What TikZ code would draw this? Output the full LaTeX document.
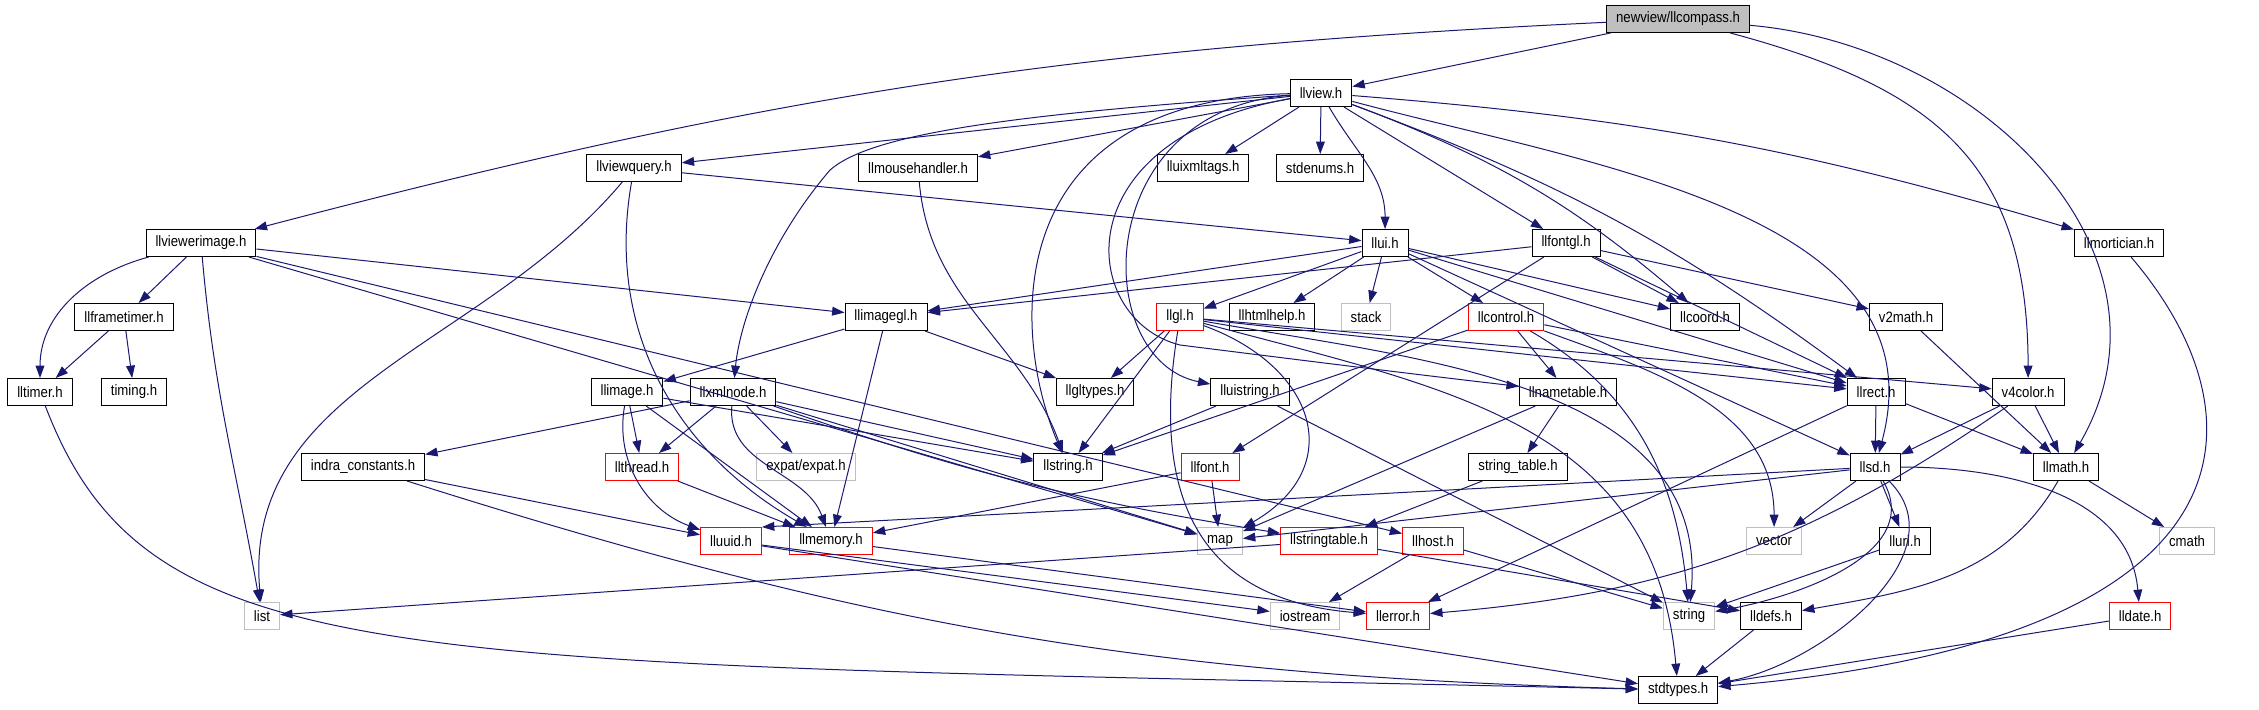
\documentclass[tikz,border=0pt]{standalone}
\usepackage{fontspec}
\setmainfont{Liberation Sans}[FakeStretch=0.88]
\usetikzlibrary{arrows.meta,positioning}
\definecolor{edgeblue}{HTML}{191970}
\definecolor{sysgray}{HTML}{BFBFBF}

\begin{document}
\begin{tikzpicture}[x=0.05pt,y=0.05pt,>={Triangle[length=0.62pt,width=0.44pt]},
		file/.style={rectangle,draw=black,line width=0.05pt,minimum height=1.35pt,inner xsep=0.475pt,inner ysep=0pt,font=\fontsize{0.75}{0.8}\selectfont},
		undoc/.style={file,draw=red},
		sysfile/.style={file,draw=sysgray},
		rootfile/.style={file,fill=sysgray},
		dep/.style={draw=edgeblue,line width=0.05pt},
		every edge/.style={dep}]
		\useasboundingbox (0,0) rectangle (2259,-709);
		% row 0 - 1
		\node[rootfile] (f_compass) at (1678,-19) {newview/llcompass.h};
		\node[file] (f_view) at (1321,-93) {llview.h};
		% row 2
		\node[file] (f_viewquery) at (634,-168) {llviewquery.h};
		\node[file] (f_mousehandler) at (918,-168) {llmousehandler.h};
		\node[file] (f_uixmltags) at (1203,-168) {lluixmltags.h};
		\node[file] (f_stdenums) at (1320,-168) {stdenums.h};
		% row 3
		\node[file] (f_viewerimage) at (201,-243) {llviewerimage.h};
		\node[file] (f_ui) at (1385,-243) {llui.h};
		\node[file] (f_fontgl) at (1566,-243) {llfontgl.h};
		\node[file] (f_mortician) at (2119,-243) {llmortician.h};
		% row 4
		\node[file] (f_frametimer) at (124,-317) {llframetimer.h};
		\node[file] (f_imagegl) at (886,-317) {llimagegl.h};
		\node[undoc] (f_gl) at (1180,-317) {llgl.h};
		\node[file] (f_htmlhelp) at (1272,-317) {llhtmlhelp.h};
		\node[sysfile] (f_stack) at (1366,-317) {stack};
		\node[undoc] (f_control) at (1506,-317) {llcontrol.h};
		\node[file] (f_coord) at (1705,-317) {llcoord.h};
		\node[file] (f_v2math) at (1906,-317) {v2math.h};
		% row 5
		\node[file] (f_timer) at (40,-392) {lltimer.h};
		\node[file] (f_timing) at (134,-392) {timing.h};
		\node[file] (f_image) at (627,-392) {llimage.h};
		\node[file] (f_xmlnode) at (733,-392) {llxmlnode.h};
		\node[file] (f_gltypes) at (1095,-392) {llgltypes.h};
		\node[file] (f_uistring) at (1250,-392) {lluistring.h};
		\node[file] (f_nametable) at (1568,-392) {llnametable.h};
		\node[file] (f_rect) at (1876,-392) {llrect.h};
		\node[file] (f_v4color) at (2028,-392) {v4color.h};
		% row 6
		\node[file] (f_indra) at (363,-467) {indra\_constants.h};
		\node[undoc] (f_thread) at (642,-467) {llthread.h};
		\node[sysfile] (f_expat) at (806,-467) {expat/expat.h};
		\node[file] (f_llstring) at (1068,-467) {llstring.h};
		\node[undoc] (f_font) at (1210,-467) {llfont.h};
		\node[file] (f_strtable) at (1518,-467) {string\_table.h};
		\node[file] (f_sd) at (1875,-467) {llsd.h};
		\node[file] (f_math) at (2066,-467) {llmath.h};
		% row 7
		\node[undoc] (f_uuid) at (731,-541) {lluuid.h};
		\node[undoc] (f_memory) at (831,-541) {llmemory.h};
		\node[sysfile] (f_map) at (1220,-541) {map};
		\node[undoc] (f_stringtable) at (1329,-541) {llstringtable.h};
		\node[undoc] (f_host) at (1433,-541) {llhost.h};
		\node[sysfile] (f_vector) at (1774,-541) {vector};
		\node[file] (f_uri) at (1905,-541) {lluri.h};
		\node[sysfile] (f_cmath) at (2187,-541) {cmath};
		% row 8 - 9
		\node[sysfile] (f_list) at (262,-616) {list};
		\node[sysfile] (f_iostream) at (1305,-616) {iostream};
		\node[undoc] (f_error) at (1398,-616) {llerror.h};
		\node[sysfile] (f_string) at (1689,-616) {string};
		\node[file] (f_defs) at (1771,-616) {lldefs.h};
		\node[undoc] (f_date) at (2140,-616) {lldate.h};
		\node[file] (f_stdtypes) at (1678,-690) {stdtypes.h};

		\path[->]
			(f_compass) edge (f_view)
			(f_compass) edge[bend right=6] (f_viewerimage)
			(f_compass) edge[out=-15,in=90,looseness=1.2] (f_v4color)
			(f_compass) edge[out=-5,in=60,looseness=1.1] (f_math)
			(f_view) edge (f_viewquery)
			(f_view) edge (f_mousehandler)
			(f_view) edge (f_uixmltags)
			(f_view) edge (f_stdenums)
			(f_view) edge[out=-60,in=90] (f_ui)
			(f_view) edge (f_fontgl)
			(f_view) edge[bend left=10] (f_coord)
			(f_view) edge[bend left=6] (f_mortician)
			(f_view) edge[bend left=8] (f_rect)
			(f_view) edge[out=-15,in=75] (f_sd)
			(f_viewquery) edge (f_ui)
			(f_viewquery) edge[out=-130,in=95] (f_list)
			(f_viewquery) edge[out=-100,in=150] (f_memory)
			(f_mousehandler) edge[out=-85,in=110] (f_llstring)
			(f_viewerimage) edge (f_frametimer)
			(f_viewerimage) edge[out=195,in=90] (f_timer)
			(f_viewerimage) edge[out=-85,in=100] (f_list)
			(f_viewerimage) edge (f_imagegl)
			(f_viewerimage) edge (f_host)
			(f_viewerimage) edge (f_map)
			(f_frametimer) edge (f_timer)
			(f_frametimer) edge (f_timing)
			(f_ui) edge (f_imagegl)
			(f_ui) edge (f_gl)
			(f_ui) edge (f_htmlhelp)
			(f_ui) edge (f_stack)
			(f_ui) edge (f_control)
			(f_ui) edge (f_coord)
			(f_ui) edge (f_rect)
			(f_ui) edge (f_sd)
			(f_fontgl) edge (f_imagegl)
			(f_fontgl) edge (f_coord)
			(f_fontgl) edge (f_rect)
			(f_fontgl) edge (f_v2math)
			(f_fontgl) edge (f_font)
			(f_imagegl) edge (f_image)
			(f_imagegl) edge (f_gltypes)
			(f_imagegl) edge (f_memory)
			(f_gl) edge (f_gltypes)
			(f_gl) edge (f_llstring)
			(f_gl) edge[out=-20,in=30,looseness=1.5] (f_map)
			(f_gl) edge (f_rect)
			(f_gl) edge (f_v4color)
			(f_gl) edge[out=-10,in=85] (f_string)
			(f_gl) edge[out=-15,in=95,looseness=1.1] (f_stdtypes)
			(f_control) edge (f_llstring)
			(f_control) edge (f_nametable)
			(f_control) edge (f_rect)
			(f_control) edge[out=-30,in=95] (f_string)
			(f_control) edge[out=-20,in=90] (f_vector)
			(f_image) edge (f_thread)
			(f_image) edge (f_memory)
			(f_image) edge[out=-100,in=160] (f_uuid)
			(f_image) edge (f_llstring)
			(f_xmlnode) edge (f_indra)
			(f_xmlnode) edge (f_thread)
			(f_xmlnode) edge (f_expat)
			(f_xmlnode) edge[out=-95,in=110] (f_memory)
			(f_xmlnode) edge (f_llstring)
			(f_xmlnode) edge (f_map)
			(f_xmlnode) edge[bend right=5] (f_stringtable)
			(f_uistring) edge (f_llstring)
			(f_uistring) edge (f_string)
			(f_nametable) edge (f_map)
			(f_nametable) edge (f_strtable)
			(f_strtable) edge (f_stringtable)
			(f_font) edge (f_memory)
			(f_font) edge (f_map)
			(f_thread) edge (f_memory)
			(f_indra) edge (f_uuid)
			(f_indra) edge[bend right=8] (f_stdtypes)
			(f_uuid) edge (f_iostream)
			(f_uuid) edge (f_stdtypes)
			(f_memory) edge (f_error)
			(f_stringtable) edge (f_list)
			(f_stringtable) edge (f_defs)
			(f_host) edge (f_iostream)
			(f_host) edge (f_string)
			(f_rect) edge (f_sd)
			(f_rect) edge (f_math)
			(f_rect) edge (f_error)
			(f_v4color) edge (f_sd)
			(f_v4color) edge (f_math)
			(f_v4color) edge[bend left=15] (f_error)
			(f_v2math) edge (f_math)
			(f_sd) edge (f_vector)
			(f_sd) edge (f_uri)
			(f_sd) edge[out=-60,in=10] (f_string)
			(f_sd) edge[out=-45,in=10] (f_stdtypes)
			(f_sd) edge[out=0,in=95] (f_date)
			(f_sd) edge (f_map)
			(f_sd) edge (f_uuid.north east)
			(f_uri) edge (f_string)
			(f_math) edge (f_cmath)
			(f_math) edge[out=-120,in=10] (f_defs)
			(f_defs) edge (f_stdtypes)
			(f_date) edge (f_stdtypes);
		% long curves round the boxes
		\draw[dep,->] (f_view) .. controls (1000,-100) and (1010,-330) .. (f_llstring);
		\draw[dep,->] (f_view) .. controls (1090,-110) and (1090,-360) .. (f_uistring);
		\draw[dep,->] (f_view) .. controls (1000,-115) and (870,-135) .. (830,-170) .. controls (770,-240) and (740,-320) .. (f_xmlnode);
		\draw[dep,->] (f_view) .. controls (1060,-140) and (1080,-320) .. (1180,-345) .. controls (1300,-360) and (1420,-375) .. (f_nametable);
		\draw[dep,->] (f_timer) .. controls (150,-680) and (400,-660) .. (f_stdtypes);
		\draw[dep,->] (f_mortician) .. controls (2270,-420) and (2260,-640) .. (f_stdtypes);
		\draw[dep,->] (f_gl) .. controls (1150,-500) and (1200,-600) .. (f_error);
	\end{tikzpicture}
\end{document}
